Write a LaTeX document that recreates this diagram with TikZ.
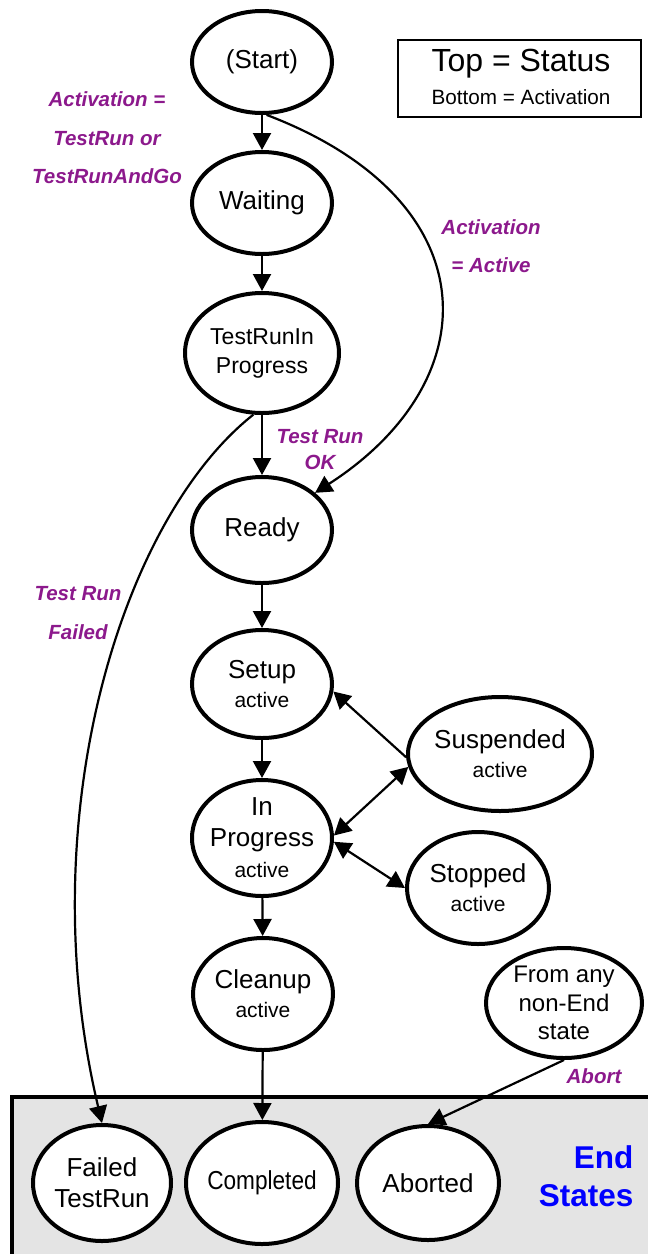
\documentclass[tikz,border=0pt]{standalone}
\usepackage{fontspec}
\setmainfont{Liberation Sans}
\usetikzlibrary{shapes.geometric,arrows.meta}
\definecolor{lab}{RGB}{140,25,140}
\definecolor{endfill}{RGB}{228,228,228}
\newcommand\actv{{\fontsize{21}{28}\selectfont active}}
\begin{document}
\begin{tikzpicture}[x=1pt,y=-1pt,
  st/.style={ellipse, draw, line width=4pt, fill=white, inner sep=0pt},
  nt/.style={font=\fontsize{26}{29}\selectfont, align=center},
  ar/.style={line width=2.2pt, -{Triangle[length=17pt,width=18pt]}},
  dar/.style={line width=2.2pt, {Triangle[length=17pt,width=18pt]}-{Triangle[length=17pt,width=18pt]}},
  lbl/.style={text=lab, font=\fontsize{20.5}{38.5}\selectfont\bfseries\itshape, align=center}]
\useasboundingbox (0,0) rectangle (648,1254);
% end states region
\draw[line width=4pt, fill=endfill] (12,1097) rectangle (670,1280);
% legend
\node[draw, line width=1.5pt, minimum width=243pt, minimum height=77pt, inner sep=0pt] (legend) at (519.5,78.5) {};
\node[font=\fontsize{32}{36}\selectfont] (legtop) at (521,64) {Top = Status};
\node[font=\fontsize{20.7}{24}\selectfont] (legbot) at (521,97) {Bottom = Activation};
% states
\node[st, minimum width=140pt, minimum height=102pt, label={[nt]center:(Start)}] (start) at (262,62) {};
\node[st, minimum width=140pt, minimum height=102pt, label={[nt]center:Waiting}] (waiting) at (262,203) {};
\node[st, minimum width=154pt, minimum height=120pt, label={[nt,font=\fontsize{23}{29}\selectfont]center:TestRunIn\\Progress}] (trip) at (262,353) {};
\node[st, minimum width=140pt, minimum height=106pt, label={[nt]center:Ready}] (ready) at (262,530) {};
\node[st, minimum width=140pt, minimum height=108pt, label={[nt]center:Setup\\\actv}] (setup) at (262,684) {};
\node[st, minimum width=140pt, minimum height=116pt, label={[nt,font=\fontsize{26}{31}\selectfont]center:In\\Progress\\\actv}] (ip) at (262,838) {};
\node[st, minimum width=184pt, minimum height=114pt, label={[nt]center:Suspended\\\actv}] (susp) at (500,754) {};
\node[st, minimum width=142pt, minimum height=112pt, label={[nt]center:Stopped\\\actv}] (stopped) at (478,888) {};
\node[st, minimum width=140pt, minimum height=112pt, label={[nt]center:Cleanup\\\actv}] (cleanup) at (263,994) {};
\node[st, minimum width=156pt, minimum height=110pt, label={[nt,font=\fontsize{24}{28.5}\selectfont]center:From any\\non-End\\state}] (from) at (564,1003) {};
\node[st, minimum width=138pt, minimum height=116pt, label={[nt,font=\fontsize{26}{31}\selectfont]center:Failed\\TestRun}] (failed) at (102,1183) {};
\node[st, minimum width=152pt, minimum height=122pt, label={[nt]center:\scalebox{0.87}[1]{Completed}}] (completed) at (262,1183) {};
\node[st, minimum width=142pt, minimum height=114pt, label={[nt]center:Aborted}] (aborted) at (428,1183) {};
% transitions
\draw[ar] (start) -- (waiting);
\draw[ar] (waiting) -- (trip);
\draw[ar] (trip) -- (ready);
\draw[ar] (ready) -- (setup);
\draw[ar] (setup) -- (ip);
\draw[ar] (ip) -- (cleanup);
\draw[ar] (cleanup) -- (completed);
\draw[ar] (start.275) .. controls (490,200) and (490,380) .. (ready.35);
\draw[ar] (trip.262) .. controls (120,520) and (30,820) .. (failed.north);
\draw[ar] (susp.182) -- (setup.-6);
\draw[dar] (susp.188) -- (ip.2);
\draw[dar] (ip.-3) -- (stopped.west);
\draw[ar] (from.south) -- (aborted.north);
% labels
\node[lbl] (l1) at (107,138) {Activation =\\TestRun or\\TestRunAndGo};
\node[lbl] (l2) at (491,246) {Activation\\= Active};
\node[lbl, font=\fontsize{20.5}{26}\selectfont\bfseries\itshape] (l3) at (320,450) {Test Run\\OK};
\node[lbl] (l4) at (78,613) {Test Run\\Failed};
\node[lbl] (l5) at (594,1076) {Abort};
\node[text=blue, font=\fontsize{31.5}{38}\selectfont\bfseries, align=right, anchor=east] (endlbl) at (637,1176) {End\\States};
\end{tikzpicture}
\end{document}
